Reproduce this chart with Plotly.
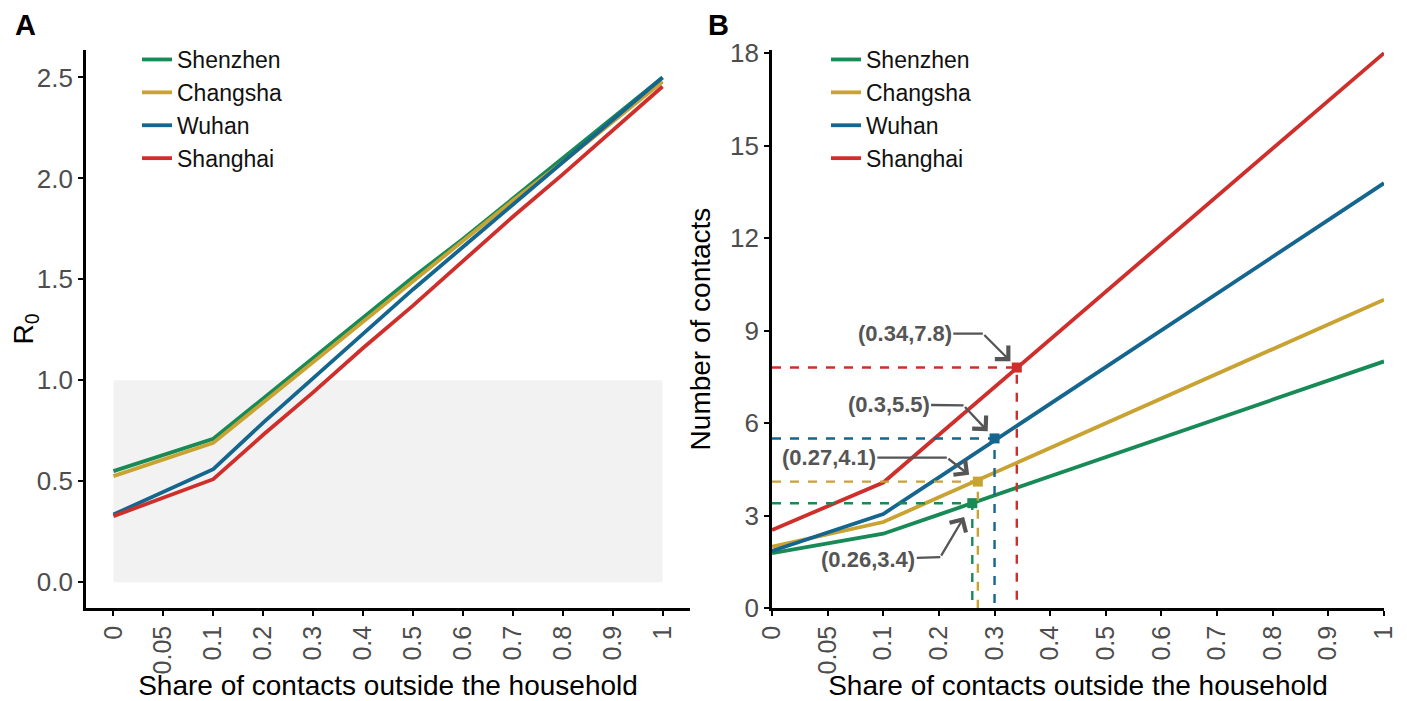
import numpy as np
import plotly.graph_objects as go

# x axis categories (ordinal spacing, as in the original figure)
share_ticks = ['0', '0.05', '0.1', '0.2', '0.3', '0.4', '0.5', '0.6', '0.7', '0.8', '0.9', '1']
share_tick_vals = [0, 0.05, 0.1, 0.2, 0.3, 0.4, 0.5, 0.6, 0.7, 0.8, 0.9, 1.0]

# model outputs at these shares
share = [0, 0.1, 0.2, 0.3, 0.4, 0.5, 0.6, 0.7, 0.8, 0.9, 1.0]
cities = ['Shenzhen', 'Changsha', 'Wuhan', 'Shanghai']

r0_shenzhen = [0.55, 0.71, 0.91, 1.11, 1.31, 1.51, 1.70, 1.90, 2.10, 2.30, 2.50]
r0_changsha = [0.525, 0.69, 0.89, 1.09, 1.29, 1.49, 1.69, 1.89, 2.08, 2.28, 2.48]
r0_wuhan = [0.335, 0.56, 0.79, 1.01, 1.23, 1.45, 1.66, 1.87, 2.08, 2.29, 2.50]
r0_shanghai = [0.327, 0.51, 0.73, 0.94, 1.16, 1.37, 1.59, 1.81, 2.02, 2.24, 2.455]

contacts_shenzhen = [1.78, 2.41, 3.03, 3.65, 4.27, 4.89, 5.51, 6.14, 6.76, 7.38, 8.0]
contacts_changsha = [1.99, 2.79, 3.59, 4.39, 5.19, 5.99, 6.79, 7.60, 8.40, 9.20, 10.0]
contacts_wuhan = [1.85, 3.05, 4.24, 5.43, 6.62, 7.81, 9.00, 10.20, 11.39, 12.58, 13.78]
contacts_shanghai = [2.53, 4.07, 5.62, 7.17, 8.71, 10.26, 11.81, 13.36, 14.90, 16.45, 18.0]

# threshold points (R0 = 1) per city
thr_share = [0.26, 0.27, 0.30, 0.34]
thr_contacts = [3.4, 4.1, 5.5, 7.8]

# shaded R0 < 1 band
band_r0 = [0.0, 1.0]

r0_ticks = [0.0, 0.5, 1.0, 1.5, 2.0, 2.5]
contact_ticks = [0, 3, 6, 9, 12, 15, 18]

colors = ['#178a56', '#c9a332', '#14668f', '#cf2f2b']
r0_series = [r0_shenzhen, r0_changsha, r0_wuhan, r0_shanghai]
contact_series = [contacts_shenzhen, contacts_changsha, contacts_wuhan, contacts_shanghai]

# the page body has an 8px margin, so the figure is drawn 8px in from the corner
OFF = 8
FW, FH = 1407 - OFF, 701 - OFF
FONT = 'Liberation Sans, Arial, sans-serif'
TICK_GREY = '#4d4d4d'
ARROW_GREY = '#555555'


def xp(px):
    return (px - OFF) / FW


def yp(py):
    return 1 - (py - OFF) / FH


def to_pos(x):
    # map share values onto the ordinal axis positions
    return np.interp(x, share_tick_vals, np.arange(len(share_tick_vals)))


fig = go.Figure()

for name, col, ys in zip(cities, colors, r0_series):
    fig.add_trace(go.Scatter(
        x=to_pos(share), y=ys, mode='lines', name=name,
        line=dict(color=col, width=3.8), xaxis='x', yaxis='y', legend='legend',
    ))

for name, col, ys in zip(cities, colors, contact_series):
    fig.add_trace(go.Scatter(
        x=to_pos(share), y=ys, mode='lines', name=name,
        line=dict(color=col, width=3.8), xaxis='x2', yaxis='y2', legend='legend2',
    ))

# dashed guides + square markers at thresholds
for col, sx, sy in zip(colors, thr_share, thr_contacts):
    px_ = float(to_pos(sx))
    fig.add_trace(go.Scatter(
        x=[0, px_, px_], y=[sy, sy, 0], mode='lines', showlegend=False,
        line=dict(color=col, width=2.4, dash='dash'), xaxis='x2', yaxis='y2',
        hoverinfo='skip',
    ))
    fig.add_trace(go.Scatter(
        x=[px_], y=[sy], mode='markers', showlegend=False,
        marker=dict(color=col, size=10, symbol='square'), xaxis='x2', yaxis='y2',
    ))

fig.add_shape(type='rect', xref='x', yref='y', x0=0, x1=len(share_ticks) - 1,
              y0=band_r0[0], y1=band_r0[1], fillcolor='#f2f2f2',
              line=dict(width=0), layer='below')

# domains (pixel based)
xa_dom = [xp(86), xp(690)]
xb_dom = [xp(772), xp(1384)]
y_dom = [yp(608), yp(50)]
ppx_b = (1384 - 772) / 11
ppy_b = (608 - 50) / 18.1

# annotation geometry (pixels): elbow offset from point, label offset from elbow, standoff
ann_style = [
    dict(elbow=(-32, 54), label=(-72, 2), standoff=16),
    dict(elbow=(-31, -24), label=(-118, 0), standoff=11),
    dict(elbow=(-31, -33), label=(-75, -1), standoff=10),
    dict(elbow=(-34, -34), label=(-78, 0), standoff=9),
]

annotations = []
for sx, sy, st in zip(thr_share, thr_contacts, ann_style):
    px_ = float(to_pos(sx))
    ex, ey = st['elbow']
    annotations.append(dict(
        x=px_, y=sy, xref='x2', yref='y2', ax=ex, ay=ey, text='',
        showarrow=True, arrowhead=4, arrowsize=1.6, arrowwidth=2.3,
        arrowcolor=ARROW_GREY, standoff=st['standoff'],
    ))
    lx, ly = st['label']
    annotations.append(dict(
        x=px_ + ex / ppx_b, y=sy - ey / ppy_b, xref='x2', yref='y2',
        ax=lx, ay=ly, text='<b>(%g,%g)</b>' % (sx, sy),
        showarrow=True, arrowhead=0, arrowwidth=2.3, arrowcolor=ARROW_GREY,
        font=dict(size=22, color=ARROW_GREY, family=FONT),
    ))

annotations += [
    dict(text='<b>A</b>', x=xp(13), y=yp(25), xref='paper', yref='paper',
         xanchor='left', yanchor='middle', showarrow=False,
         font=dict(size=29, color='black', family=FONT)),
    dict(text='<b>B</b>', x=xp(706), y=yp(25), xref='paper', yref='paper',
         xanchor='left', yanchor='middle', showarrow=False,
         font=dict(size=29, color='black', family=FONT)),
]

axis_common = dict(
    showline=True, linecolor='black', linewidth=2.6, ticks='outside',
    ticklen=5, tickwidth=2, tickcolor='black', showgrid=False, zeroline=False,
    automargin=False,
)
xtick_common = dict(
    tickvals=list(range(len(share_ticks))), ticktext=share_ticks, tickangle=-90,
    tickfont=dict(size=25, color=TICK_GREY, family=FONT),
    title=dict(text='Share of contacts outside the household', standoff=10,
               font=dict(size=28, color='black', family=FONT)),
)
ytick_font = dict(size=26, color=TICK_GREY, family=FONT)

fig.update_layout(
    width=FW, height=FH,
    margin=dict(l=0, r=0, t=0, b=0),
    paper_bgcolor='white', plot_bgcolor='white',
    font=dict(family=FONT),
    xaxis=dict(domain=xa_dom, range=[-0.55, 11.55], anchor='y', **axis_common, **xtick_common),
    yaxis=dict(domain=y_dom, range=[-0.128, 2.636], anchor='x',
               tickvals=r0_ticks, ticktext=['%.1f' % v for v in r0_ticks],
               tickfont=ytick_font,
               title=dict(text='R<sub>0</sub>', standoff=12,
                          font=dict(size=28, color='black', family=FONT)),
               **axis_common),
    xaxis2=dict(domain=xb_dom, range=[0, 11], anchor='y2', **axis_common, **xtick_common),
    yaxis2=dict(domain=y_dom, range=[0, 18.1], anchor='x2',
                tickvals=contact_ticks, ticktext=[str(v) for v in contact_ticks],
                tickfont=ytick_font,
                title=dict(text='Number of contacts', standoff=12,
                           font=dict(size=28, color='black', family=FONT)),
                **axis_common),
    legend=dict(x=xp(137), y=yp(38), xanchor='left', yanchor='top',
                bgcolor='rgba(0,0,0,0)', font=dict(size=23, color='#111111', family=FONT),
                tracegroupgap=0),
    legend2=dict(x=xp(826), y=yp(38), xanchor='left', yanchor='top',
                 bgcolor='rgba(0,0,0,0)', font=dict(size=23, color='#111111', family=FONT),
                 tracegroupgap=0),
    annotations=annotations,
)

fig.write_html('out.html')
